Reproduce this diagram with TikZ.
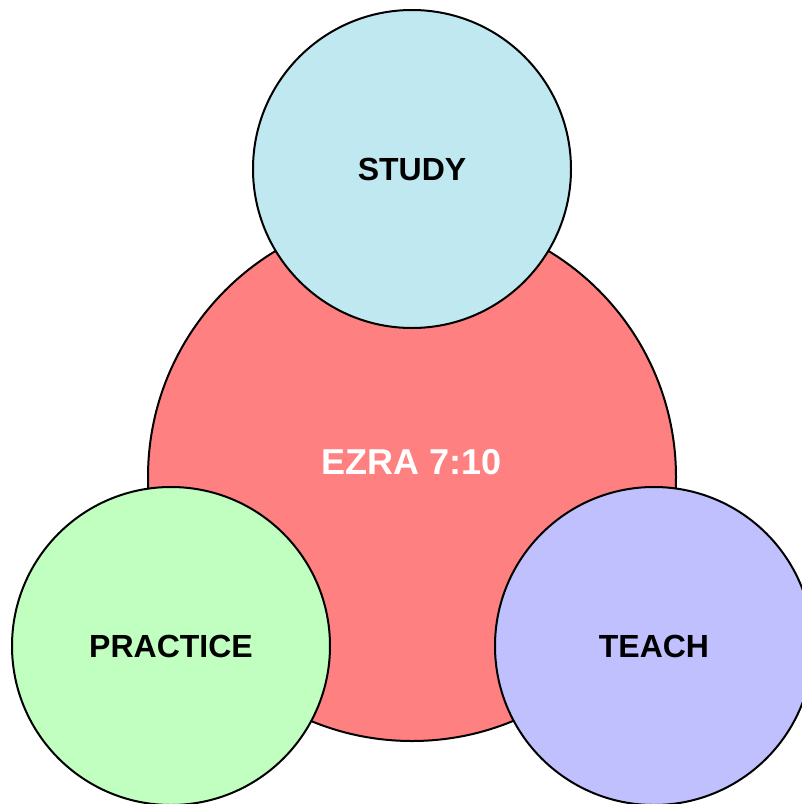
\documentclass[tikz,border=0pt]{standalone}
\usepackage{fontspec}
\setmainfont{Liberation Sans}
\definecolor{cred}{HTML}{FF8080}
\definecolor{ccyan}{HTML}{BFE8F0}
\definecolor{cgreen}{HTML}{C0FFC0}
\definecolor{cblue}{HTML}{C0C0FF}
\begin{document}
\begin{tikzpicture}[x=1pt,y=-1pt,
  bubble/.style={circle,draw=black,line width=2pt,inner sep=0pt,font=\fontsize{32}{32}\selectfont\bfseries},
]
\useasboundingbox (0,0) rectangle (802,804);
\clip (0,0) rectangle (802,804);
\node[bubble,fill=cred,minimum size=528pt,text=white,font=\fontsize{36}{36}\selectfont\bfseries] (ezra) at (412,477) {\raisebox{31pt}{EZRA 7:10}};
\node[bubble,fill=ccyan,minimum size=318pt] (study) at (412,169) {STUDY};
\node[bubble,fill=cgreen,minimum size=318pt] (practice) at (171,646) {PRACTICE};
\node[bubble,fill=cblue,minimum size=318pt] (teach) at (654,646) {TEACH};
\end{tikzpicture}
\end{document}
